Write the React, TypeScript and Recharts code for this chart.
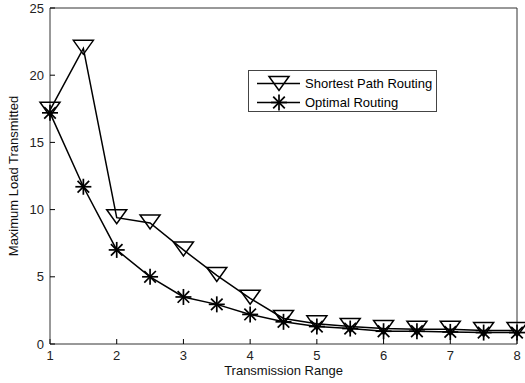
import React from 'react';
import { LineChart, Line, XAxis, YAxis, Legend, Label } from 'recharts';

const rangeValues = [1, 1.5, 2, 2.5, 3, 3.5, 4, 4.5, 5, 5.5, 6, 6.5, 7, 7.5, 8];
const shortestPath = [17.4, 22.0, 9.4, 9.0, 7.0, 5.1, 3.4, 1.9, 1.5, 1.3, 1.15, 1.1, 1.1, 1.0, 1.0];
const optimalRouting = [17.2, 11.7, 7.0, 5.0, 3.5, 2.95, 2.2, 1.65, 1.3, 1.15, 0.95, 0.95, 0.9, 0.85, 0.85];
const xTicks = [1, 2, 3, 4, 5, 6, 7, 8];
const yTicks = [0, 5, 10, 15, 20, 25];
const seriesNames = ['Shortest Path Routing', 'Optimal Routing'];
const xTitle = 'Transmission Range';
const yTitle = 'Maximum Load Transmitted';

const data = rangeValues.map((x, i) => ({ x, sp: shortestPath[i], op: optimalRouting[i] }));

const FONT = '"Liberation Sans", Arial, Helvetica, sans-serif';

const Tri = ({ cx, cy }: any) => (
  <path
    d={`M${cx - 10},${cy - 8} L${cx + 10},${cy - 8} L${cx},${cy + 6} Z`}
    fill="none"
    stroke="#000"
    strokeWidth={1.5}
  />
);

const Star = ({ cx, cy }: any) => {
  const r = 8;
  const d = 5.8;
  return (
    <g stroke="#000" strokeWidth={1.7}>
      <line x1={cx} y1={cy - r} x2={cx} y2={cy + r} />
      <line x1={cx - r} y1={cy} x2={cx + r} y2={cy} />
      <line x1={cx - d} y1={cy - d} x2={cx + d} y2={cy + d} />
      <line x1={cx - d} y1={cy + d} x2={cx + d} y2={cy - d} />
    </g>
  );
};

const triDot = (props: any) => <Tri key={`t-${props.index}`} cx={props.cx} cy={props.cy} />;
const starDot = (props: any) => <Star key={`s-${props.index}`} cx={props.cx} cy={props.cy} />;

const LegendBox = () => {
  return (
    <div
      style={{
        border: '1px solid #444',
        background: '#fff',
        width: 187,
        height: 37,
        paddingTop: 3,
        boxSizing: 'content-box',
        fontFamily: FONT,
        fontSize: 13,
        color: '#000',
      }}
    >
      {seriesNames.map((name, i) => (
        <div key={name} style={{ display: 'flex', alignItems: 'center', height: 19 }}>
          <svg width={56} height={19} style={{ display: 'block', flex: 'none' }}>
            <line x1={8} y1={9.5} x2={51} y2={9.5} stroke="#000" strokeWidth={1.5} />
            {i === 0 ? <Tri cx={30} cy={10.5} /> : <Star cx={30} cy={9.5} />}
          </svg>
          <span style={{ lineHeight: '19px', whiteSpace: 'nowrap' }}>{name}</span>
        </div>
      ))}
    </div>
  );
};

const XTitle = (props: any) => {
  const vb = props.viewBox || {};
  return (
    <text x={vb.x + vb.width / 2} y={vb.y + 31} textAnchor="middle" fontSize={13} fill="#111" fontFamily={FONT}>
      {xTitle}
    </text>
  );
};

const YTitle = (props: any) => {
  const vb = props.viewBox || {};
  const x = vb.x + 18;
  const y = vb.y + vb.height / 2;
  return (
    <text x={x} y={y} transform={`rotate(-90, ${x}, ${y})`} textAnchor="middle" fontSize={13} fill="#111" fontFamily={FONT}>
      {yTitle}
    </text>
  );
};

export default function App() {
  return (
    <div style={{ position: 'absolute', left: 0, top: 0, background: '#fff' }}>
      <LineChart
        width={525}
        height={383}
        data={data}
        margin={{ top: 7, right: 7, bottom: 0, left: 0 }}
        style={{ fontFamily: FONT }}
      >
        <XAxis
          xAxisId="b"
          dataKey="x"
          type="number"
          domain={[1, 8]}
          ticks={xTicks}
          interval={0}
          height={39}
          tickSize={-5}
          tickMargin={12}
          stroke="#333"
          tick={{ fill: '#222', fontSize: 13 }}
          tickLine={{ stroke: '#000' }}
        >
          <Label content={XTitle} />
        </XAxis>
        <XAxis
          xAxisId="t"
          orientation="top"
          dataKey="x"
          type="number"
          domain={[1, 8]}
          ticks={xTicks}
          interval={0}
          height={1}
          tickSize={-5}
          stroke="#333"
          tick={false}
          tickLine={{ stroke: '#000' }}
        />
        <YAxis
          yAxisId="l"
          type="number"
          domain={[0, 25]}
          ticks={yTicks}
          interval={0}
          width={50}
          tickSize={-5}
          tickMargin={11}
          stroke="#333"
          tick={{ fill: '#222', fontSize: 13 }}
          tickLine={{ stroke: '#000' }}
        >
          <Label content={YTitle} />
        </YAxis>
        <YAxis
          yAxisId="r"
          orientation="right"
          type="number"
          domain={[0, 25]}
          ticks={yTicks}
          interval={0}
          width={1}
          tickSize={-5}
          stroke="#333"
          tick={false}
          tickLine={{ stroke: '#000' }}
        />
        <Legend
          layout="vertical"
          align="center"
          verticalAlign="middle"
          content={LegendBox}
          wrapperStyle={{ left: 248, top: 70, width: 189, height: 42 }}
        />
        <Line
          xAxisId="b"
          yAxisId="l"
          type="linear"
          dataKey="sp"
          name={seriesNames[0]}
          stroke="#000"
          strokeWidth={1.5}
          dot={triDot}
          activeDot={false}
          isAnimationActive={false}
        />
        <Line
          xAxisId="b"
          yAxisId="l"
          type="linear"
          dataKey="op"
          name={seriesNames[1]}
          stroke="#000"
          strokeWidth={1.5}
          dot={starDot}
          activeDot={false}
          isAnimationActive={false}
        />
      </LineChart>
    </div>
  );
}
